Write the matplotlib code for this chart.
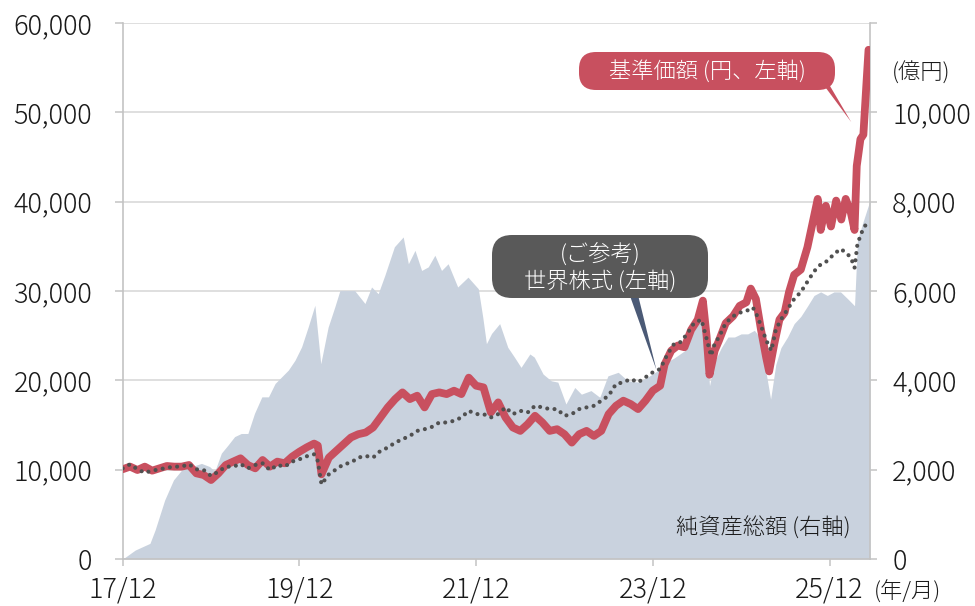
import matplotlib
matplotlib.use("Agg")
import matplotlib.pyplot as plt
from matplotlib.patches import FancyBboxPatch
from matplotlib.ticker import FuncFormatter

plt.rcParams['font.family'] = ['Noto Sans CJK JP', 'DejaVu Sans']
plt.rcParams['font.weight'] = 'light'

# ---- data (x = months since 2017/12) ----
nav_months = [0, 1, 2, 3, 4, 5, 6, 7, 8, 9, 10, 11, 12, 13, 14, 15, 16, 17, 18, 19, 20,
              21, 22, 23, 24, 25, 26, 26.5, 27, 28, 29, 30, 31, 32, 33, 34, 35, 36, 37, 38,
              39, 40, 41, 42, 43, 44, 45, 46, 47, 48, 49, 50, 51, 52, 53, 54, 55, 56, 57,
              58, 59, 60, 61, 62, 63, 64, 65, 66, 67, 68, 69, 70, 71, 72, 73, 73.6, 74.5,
              75.4, 76.3, 77.2, 78.1, 78.8, 79.3, 79.7, 80.4, 81.0, 81.9, 82.9, 83.8, 84.7,
              85.3, 86.0, 86.7, 87.4, 87.8, 88.5, 89.2, 89.9, 90.5, 91.2, 92.1, 93.0, 93.7,
              94.4, 94.8, 95.5, 96.2, 96.9, 97.6, 98.2, 98.9, 99.4, 99.7, 100.2, 100.6,
              101.0, 101.3]
nav_values = [10050, 10340, 9960, 10340, 9890, 10150, 10410, 10340, 10340, 10520, 9590,
              9400, 8840, 9590, 10520, 10900, 11270, 10520, 10150, 11080, 10340, 10900,
              10710, 11450, 12010, 12500, 12920, 12700, 9480, 11350, 12100, 12850, 13600,
              13970, 14160, 14720, 15840, 16970, 17900, 18650, 17900, 18280, 16970, 18460,
              18650, 18460, 18840, 18460, 20300, 19400, 19210, 16400, 17530, 15840, 14720,
              14340, 15090, 16030, 15280, 14340, 14530, 13970, 13030, 13970, 14340, 13780,
              14340, 16220, 17150, 17720, 17340, 16780, 17720, 18840, 19400, 21780, 23320,
              23900, 23700, 25640, 26800, 28920, 25000, 20620, 23320, 24480, 26400, 27180,
              28340, 28730, 30270, 29110, 25640, 22550, 21000, 24090, 26800, 27570, 29880,
              31810, 32390, 34900, 37600, 40310, 36830, 39540, 37220, 40120, 38000, 40310,
              38760, 36830, 44000, 47000, 47500, 53000, 57000]

world_months = [0, 1, 2, 3, 4, 5, 6, 7, 8, 9, 10, 11, 12, 13, 14, 15, 16, 17, 18, 19, 20,
                21, 22, 23, 24, 25, 26, 26.5, 27, 28, 29, 30, 31, 32, 33, 34, 35, 36, 37,
                38, 39, 40, 41, 42, 43, 44, 45, 46, 47, 48, 49, 50, 51, 52, 53, 54, 55, 56,
                57, 58, 59, 60, 61, 62, 63, 64, 65, 66, 67, 68, 69, 70, 71, 72, 73, 74.0,
                74.9, 75.8, 76.7, 77.6, 78.6, 79.2, 79.9, 80.4, 81.0, 81.9, 82.9, 83.8, 84.7,
                85.6, 86.2, 86.9, 87.4, 88.1, 88.7, 89.4, 90.3, 91.2, 92.1, 93.0, 93.9, 94.8,
                95.7, 96.6, 97.5, 98.2, 98.9, 99.4, 99.8, 100.5, 101.2]
world_values = [10150, 10600, 10040, 9660, 9890, 10040, 10220, 10340, 10340, 10610, 10040,
                9960, 9300, 9780, 10340, 10340, 10630, 10150, 10520, 10710, 9960, 10520,
                10340, 10900, 11160, 11500, 11720, 10970, 8350, 9480, 10040, 10600, 10790,
                11350, 11540, 11350, 12100, 12470, 13030, 13410, 13780, 14340, 14530, 14790,
                15280, 15280, 15470, 15840, 16590, 16220, 16220, 15840, 16220, 16970, 16220,
                16590, 16400, 17150, 16970, 16780, 16780, 16030, 16220, 16780, 16970, 17150,
                17720, 18280, 19590, 19780, 20150, 19780, 20340, 20900, 21270, 22930, 24090,
                24290, 25250, 26410, 26800, 25000, 22740, 24090, 24860, 26410, 27180, 27570,
                27760, 28150, 27180, 25640, 24480, 23320, 25640, 26800, 27950, 29110, 29880,
                31040, 32200, 32970, 33360, 34130, 34710, 34320, 33750, 32590, 35290, 36830,
                37800]

asset_months = [0, 1.7, 3.7, 4.4, 5.7, 6.9, 8.0, 9.4, 10.7, 11.8, 12.5, 13.4, 14.3, 15.2,
                16.1, 17.0, 17.9, 18.9, 19.8, 20.7, 21.6, 22.5, 23.4, 24.3, 25.2, 26.1, 26.9,
                27.9, 28.8, 29.5, 30.6, 31.5, 32.9, 33.8, 34.7, 35.6, 36.9, 38.1, 38.8, 39.7,
                40.6, 41.5, 42.4, 43.3, 44.2, 45.5, 46.9, 48.3, 48.9, 49.4, 50.1, 51.2, 52.3,
                53.2, 54.1, 55.3, 55.9, 57.1, 58.2, 59.1, 60.2, 61.4, 62.3, 63.6, 64.8, 65.9,
                67.3, 68.6, 70.0, 71.3, 72.7, 73.8, 74.9, 76.3, 77.2, 78.1, 78.8, 79.5, 79.7,
                80.4, 81.3, 82.2, 83.1, 84.0, 84.9, 85.8, 86.5, 87.2, 88.0, 88.7, 89.4, 90.3,
                91.2, 92.1, 93.0, 93.9, 94.8, 95.7, 96.6, 97.5, 98.5, 99.4, 99.8, 100.5, 101.5]
asset_values = [0, 200, 350, 650, 1320, 1770, 1990, 2070, 2140, 2070, 1960, 2370, 2550,
                2740, 2810, 2810, 3260, 3630, 3630, 3930, 4080, 4230, 4450, 4750, 5200, 5680,
                4370, 5190, 5640, 6010, 6010, 6010, 5720, 6090, 5940, 6350, 6990, 7210, 6610,
                6910, 6460, 6540, 6800, 6460, 6610, 6090, 6310, 6050, 5420, 4820, 5050, 5270,
                4740, 4520, 4290, 4590, 4520, 4140, 3990, 3960, 3470, 3840, 3690, 3770, 3620,
                4100, 4180, 3990, 3960, 4070, 4220, 4400, 4500, 4660, 4970, 5270, 5430, 4350,
                3880, 4420, 4730, 4970, 4970, 5040, 5040, 5120, 4970, 4350, 3580, 4350, 4730,
                4970, 5270, 5430, 5660, 5900, 5980, 5900, 5980, 5980, 5820, 5670, 7140, 7520,
                8030]

x_ticks = [0, 24, 48, 72, 96]
x_tick_labels = ['17/12', '19/12', '21/12', '23/12', '25/12']
left_ticks = [0, 10000, 20000, 30000, 40000, 50000, 60000]
right_ticks = [0, 2000, 4000, 6000, 8000, 10000, 12000]

RED = '#c8505f'
DOTS = '#505050'
AREA = '#c9d2de'
AXIS = '#c3c3c3'
GRID = '#d6d6d6'
TXT = '#1a1a1a'

fig = plt.figure(figsize=(9.75, 6.06), dpi=100)
ax = fig.add_axes([0.12585, 0.07756, 0.76646, 0.88449])
ax2 = ax.twinx()
ax.set_zorder(3)
ax2.set_zorder(2)
ax.patch.set_visible(False)

# area (right axis)
ax2.fill_between(asset_months, 0, asset_values, color=AREA, lw=0, zorder=2)
ax2.set_ylim(0, 12000)
ax2.set_yticks(right_ticks)
ax2.set_yticklabels([f'{v:,}' if v < 12000 else '' for v in right_ticks])
ax2.grid(axis='y', color=GRID, lw=1.1)
ax2.set_axisbelow(True)

# lines (left axis)
ax.plot(nav_months, nav_values, color=RED, lw=5.6, solid_joinstyle='round',
        solid_capstyle='round', zorder=3)
ax.plot(world_months, world_values, color=DOTS, lw=3.0, linestyle=(0, (0.001, 1.75)),
        dash_capstyle='round', zorder=4)
ax.set_ylim(0, 60000)
ax.set_xlim(0, 101.5)
ax.set_yticks(left_ticks)
ax.yaxis.set_major_formatter(FuncFormatter(lambda v, p: f'{int(v):,}'))
ax.set_xticks(x_ticks)
ax.set_xticklabels(x_tick_labels)

for s in ['top', 'right']:
    ax.spines[s].set_visible(False)
for s in ['left', 'bottom']:
    ax.spines[s].set_color(AXIS)
    ax.spines[s].set_linewidth(1.2)
for s in ['top', 'left', 'bottom']:
    ax2.spines[s].set_visible(False)
ax2.spines['right'].set_color(AXIS)
ax2.spines['right'].set_linewidth(1.2)

ax.tick_params(axis='y', length=6, width=1.1, color=AXIS, labelcolor=TXT,
               labelsize=19.5, pad=16)
ax.tick_params(axis='x', length=5, width=1.1, color=AXIS, labelcolor=TXT,
               labelsize=19.5, pad=7)
ax2.tick_params(axis='y', length=5, width=1.1, color=AXIS, labelcolor=TXT,
                labelsize=19.5, pad=11)

# axis unit labels
fig.text(921 / 975, 1 - 73 / 606, '(億円)', ha='center', va='center',
         fontsize=16, color=TXT)
fig.text(908 / 975, 1 - 592 / 606, '(年/月)', ha='center', va='center',
         fontsize=16, color=TXT)
fig.text(851 / 975, 1 - 528 / 606, '純資産総額 (右軸)', ha='right', va='center',
         fontsize=16, color=TXT)

# callout pointers
ax.annotate('', xy=(98.96, 48900), xycoords='data', xytext=(826, 606 - 84),
            textcoords='figure pixels',
            arrowprops=dict(arrowstyle='wedge,tail_width=0.35', color=RED, lw=0,
                            shrinkA=0, shrinkB=0))
ax.annotate('', xy=(72.5, 21150), xycoords='data', xytext=(633, 606 - 292),
            textcoords='figure pixels',
            arrowprops=dict(arrowstyle='wedge,tail_width=0.6', color='#4b5a76', lw=0,
                            shrinkA=0, shrinkB=0))

# callout boxes (figure inches)
red_box = FancyBboxPatch((5.79, 5.16), 2.56, 0.38, boxstyle='round,pad=0,rounding_size=0.17',
                         transform=fig.dpi_scale_trans, facecolor=RED, edgecolor='none',
                         zorder=10)
gray_box = FancyBboxPatch((4.92, 3.08), 2.16, 0.63, boxstyle='round,pad=0,rounding_size=0.2',
                          transform=fig.dpi_scale_trans, facecolor='#595959',
                          edgecolor='none', zorder=10)
fig.add_artist(red_box)
fig.add_artist(gray_box)
fig.text(707 / 975, 1 - 72 / 606, '基準価額 (円、左軸)', ha='center', va='center',
         fontsize=16, color='white', zorder=11)
fig.text(600 / 975, 1 - 254 / 606, '(ご参考)', ha='center', va='center',
         fontsize=16, color='white', zorder=11)
fig.text(600 / 975, 1 - 281 / 606, '世界株式 (左軸)', ha='center', va='center',
         fontsize=16, color='white', zorder=11)

fig.savefig('out.png', dpi=100)
